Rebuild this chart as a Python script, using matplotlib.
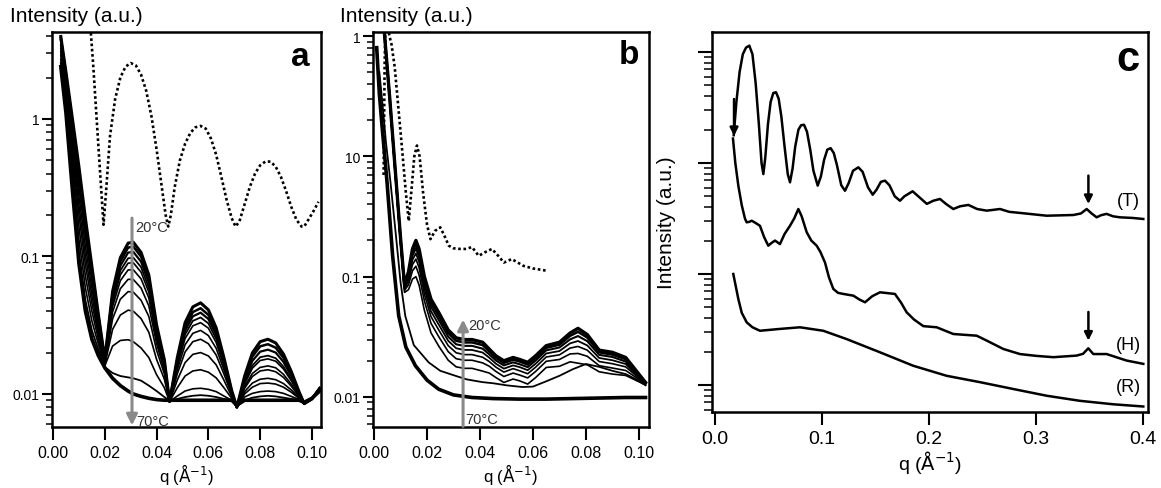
import matplotlib
matplotlib.use("Agg")
import matplotlib.pyplot as plt
from matplotlib.ticker import FixedLocator, FixedFormatter, LogLocator, NullFormatter

plt.rcParams['font.family'] = ['Liberation Sans', 'DejaVu Sans']

##### Data #####
## panel a : temperature series 20 -> 70 C (log intensity vs q)
q_a = [0.003, 0.005, 0.0075, 0.010, 0.0125, 0.015, 0.0175, 0.020,
       0.023, 0.026, 0.029, 0.031, 0.034, 0.037, 0.040, 0.043, 0.045,
       0.048, 0.051, 0.054, 0.057, 0.060, 0.063, 0.066, 0.069, 0.071,
       0.074, 0.077, 0.080, 0.083, 0.086, 0.089, 0.092, 0.095, 0.097,
       0.100, 0.103]

I_a = [
    [3.98, 2.19, 1.0, 0.45, 0.19, 0.085, 0.038, 0.0178,
     0.0557, 0.098, 0.125, 0.127, 0.107, 0.0733, 0.0317, 0.0177, 0.0088,
     0.0184, 0.033, 0.043, 0.046, 0.0409, 0.0303, 0.0184, 0.0106, 0.0080,
     0.0135, 0.0199, 0.024, 0.025, 0.0235, 0.0195, 0.0146, 0.0104, 0.0085,
     0.0092, 0.011],
    [3.88, 2.11, 0.94, 0.41, 0.176, 0.080, 0.037, 0.0177,
     0.0535, 0.092, 0.116, 0.118, 0.0998, 0.0689, 0.0305, 0.0173, 0.0088,
     0.0177, 0.0306, 0.0394, 0.042, 0.0376, 0.0283, 0.0177, 0.0105, 0.0080,
     0.013, 0.0187, 0.0222, 0.023, 0.0217, 0.0183, 0.0141, 0.0103, 0.0085,
     0.0092, 0.011],
    [3.78, 2.04, 0.89, 0.38, 0.163, 0.075, 0.035, 0.0175,
     0.0509, 0.0855, 0.1067, 0.108, 0.0916, 0.064, 0.0292, 0.0169, 0.0088,
     0.0171, 0.0289, 0.0367, 0.039, 0.0351, 0.0268, 0.0171, 0.0104, 0.0080,
     0.0126, 0.0174, 0.0203, 0.021, 0.020, 0.0171, 0.0135, 0.0101, 0.0085,
     0.0092, 0.011],
    [3.69, 1.97, 0.84, 0.35, 0.151, 0.071, 0.034, 0.0174,
     0.0483, 0.0789, 0.097, 0.098, 0.0836, 0.059, 0.0278, 0.0164, 0.0088,
     0.0165, 0.0271, 0.034, 0.036, 0.0326, 0.0252, 0.0165, 0.0103, 0.0080,
     0.0121, 0.0161, 0.0185, 0.019, 0.0182, 0.0158, 0.0128, 0.010, 0.0085,
     0.0092, 0.011],
    [3.60, 1.91, 0.79, 0.32, 0.139, 0.067, 0.033, 0.0173,
     0.0461, 0.0735, 0.0894, 0.090, 0.0769, 0.055, 0.0267, 0.016, 0.0088,
     0.0159, 0.0253, 0.0313, 0.033, 0.0301, 0.0237, 0.0159, 0.0102, 0.0080,
     0.0118, 0.0154, 0.0175, 0.018, 0.0173, 0.0152, 0.0125, 0.0099, 0.0085,
     0.0092, 0.011],
    [3.42, 1.78, 0.70, 0.275, 0.119, 0.059, 0.031, 0.0171,
     0.0432, 0.0667, 0.0798, 0.080, 0.0687, 0.0499, 0.0251, 0.0155, 0.0088,
     0.015, 0.0228, 0.0276, 0.029, 0.0266, 0.0215, 0.015, 0.0101, 0.0080,
     0.0113, 0.0141, 0.0156, 0.016, 0.0155, 0.0139, 0.0118, 0.0097, 0.0085,
     0.0092, 0.011],
    [3.25, 1.66, 0.62, 0.234, 0.102, 0.052, 0.029, 0.0168,
     0.0395, 0.0583, 0.0682, 0.068, 0.0589, 0.0437, 0.0232, 0.0148, 0.0088,
     0.014, 0.0202, 0.024, 0.025, 0.0232, 0.0192, 0.014, 0.0099, 0.0080,
     0.011, 0.0134, 0.0147, 0.015, 0.0145, 0.0132, 0.0114, 0.0096, 0.0085,
     0.0092, 0.011],
    [3.09, 1.55, 0.55, 0.20, 0.087, 0.046, 0.027, 0.0166,
     0.0352, 0.0489, 0.0555, 0.055, 0.048, 0.0366, 0.0208, 0.014, 0.0088,
     0.0126, 0.0169, 0.0194, 0.020, 0.0189, 0.0163, 0.0126, 0.0096, 0.0080,
     0.0104, 0.012, 0.0128, 0.013, 0.0127, 0.0119, 0.0107, 0.0094, 0.0085,
     0.0092, 0.011],
    [2.91, 1.43, 0.48, 0.164, 0.072, 0.040, 0.025, 0.0163,
     0.0295, 0.0375, 0.0407, 0.040, 0.0353, 0.0281, 0.0178, 0.0128, 0.0088,
     0.0111, 0.0135, 0.0147, 0.015, 0.0144, 0.0131, 0.0111, 0.0093, 0.0080,
     0.010, 0.0112, 0.0119, 0.012, 0.0118, 0.0112, 0.0103, 0.0093, 0.0085,
     0.0092, 0.011],
    [2.72, 1.30, 0.41, 0.133, 0.059, 0.034, 0.023, 0.016,
     0.0223, 0.0245, 0.0248, 0.024, 0.0216, 0.0184, 0.0138, 0.0111, 0.0088,
     0.00966, 0.0105, 0.0109, 0.011, 0.0108, 0.0104, 0.00966, 0.009, 0.0080,
     0.0095, 0.0101, 0.0104, 0.0105, 0.0104, 0.0101, 0.0096, 0.0091, 0.0085,
     0.0092, 0.011],
    [2.55, 1.19, 0.35, 0.108, 0.048, 0.029, 0.021, 0.0157,
     0.0142, 0.0135, 0.0132, 0.013, 0.0125, 0.0115, 0.0105, 0.0095, 0.0089,
     0.0092, 0.0095, 0.0097, 0.0098, 0.0097, 0.0095, 0.0092, 0.009, 0.0081,
     0.009, 0.0094, 0.0096, 0.0097, 0.0096, 0.0094, 0.0092, 0.009, 0.0086,
     0.0092, 0.011],
    [2.40, 1.10, 0.30, 0.089, 0.040, 0.025, 0.019, 0.0155,
     0.013, 0.0115, 0.0105, 0.0100, 0.0096, 0.0093, 0.0091, 0.009, 0.009,
     0.009, 0.009, 0.009, 0.009, 0.009, 0.009, 0.009, 0.009, 0.0083,
     0.009, 0.009, 0.009, 0.009, 0.009, 0.009, 0.009, 0.009, 0.0087,
     0.0093, 0.0105],
]
lw_a = [2.2, 1.8, 1.6, 1.3, 1.2, 1.2, 1.2, 1.2, 1.2, 1.2, 1.3, 2.6]

q_a_dot = [0.0140, 0.0155, 0.017, 0.0185, 0.0195, 0.0205, 0.022, 0.024, 0.026, 0.028,
           0.030, 0.032, 0.034, 0.036, 0.038, 0.040, 0.042, 0.0435, 0.0445, 0.0455,
           0.047, 0.049, 0.051, 0.053, 0.055, 0.057, 0.059, 0.061, 0.063, 0.065,
           0.067, 0.069, 0.0705, 0.072, 0.074, 0.076, 0.078, 0.080, 0.082, 0.084,
           0.086, 0.088, 0.090, 0.092, 0.094, 0.096, 0.097, 0.099, 0.101, 0.1025]
I_a_dot = [6.0, 2.5, 0.9, 0.33, 0.17, 0.30, 0.75, 1.4, 2.0, 2.4,
           2.55, 2.45, 2.1, 1.6, 1.05, 0.6, 0.32, 0.2, 0.165, 0.2,
           0.32, 0.5, 0.66, 0.79, 0.87, 0.89, 0.85, 0.72, 0.55, 0.38,
           0.26, 0.19, 0.165, 0.18, 0.24, 0.32, 0.40, 0.46, 0.49, 0.49,
           0.45, 0.38, 0.30, 0.23, 0.185, 0.165, 0.165, 0.19, 0.22, 0.25]

## panel b
q_b = [0.003, 0.004, 0.006, 0.008, 0.010, 0.0115, 0.013, 0.0145, 0.0158, 0.017,
       0.019, 0.0215, 0.0245, 0.028, 0.031, 0.034, 0.037, 0.041, 0.0435, 0.046,
       0.049, 0.0525, 0.055, 0.058, 0.061, 0.065, 0.070, 0.074, 0.077, 0.0805,
       0.085, 0.090, 0.095, 0.099, 0.1025]
I_b = [
    [20, 10, 2.9, 0.77, 0.21, 0.085, 0.11, 0.17, 0.20, 0.17,
     0.10, 0.065, 0.05, 0.036, 0.031, 0.030, 0.030, 0.0285, 0.025, 0.022,
     0.020, 0.0213, 0.0205, 0.0194, 0.022, 0.0267, 0.0285, 0.034, 0.0372, 0.033,
     0.0245, 0.0235, 0.0213, 0.0165, 0.0132],
    [20, 10, 2.89, 0.763, 0.208, 0.0838, 0.106, 0.160, 0.187, 0.159,
     0.0938, 0.061, 0.0469, 0.034, 0.0293, 0.0284, 0.0284, 0.027, 0.0239, 0.0211,
     0.0192, 0.0204, 0.0197, 0.0186, 0.0211, 0.0256, 0.0272, 0.0322, 0.0348, 0.0312,
     0.0235, 0.0225, 0.0206, 0.0162, 0.0131],
    [20, 10, 2.87, 0.755, 0.205, 0.0825, 0.102, 0.150, 0.172, 0.146,
     0.0868, 0.0564, 0.0434, 0.0317, 0.0274, 0.0266, 0.0266, 0.0252, 0.0226, 0.0201,
     0.0183, 0.0194, 0.0187, 0.0177, 0.0201, 0.0244, 0.0258, 0.0301, 0.0321, 0.0291,
     0.0224, 0.0215, 0.0197, 0.0158, 0.0131],
    [20, 10, 2.85, 0.745, 0.201, 0.0808, 0.0971, 0.138, 0.156, 0.133,
     0.0793, 0.0515, 0.0397, 0.0293, 0.0254, 0.0246, 0.0246, 0.0234, 0.0212, 0.0189,
     0.0172, 0.0183, 0.0177, 0.0167, 0.0189, 0.023, 0.0241, 0.0279, 0.0292, 0.0268,
     0.0211, 0.0202, 0.0188, 0.0154, 0.013],
    [20, 10, 2.83, 0.734, 0.198, 0.0791, 0.092, 0.126, 0.140, 0.119,
     0.0715, 0.0465, 0.0358, 0.0267, 0.0233, 0.0225, 0.0225, 0.0214, 0.0197, 0.0177,
     0.0161, 0.0172, 0.0165, 0.0156, 0.0177, 0.0215, 0.0224, 0.0255, 0.0263, 0.0245,
     0.0197, 0.0189, 0.0178, 0.015, 0.0129],
    [20, 10, 2.80, 0.721, 0.193, 0.0769, 0.0858, 0.112, 0.122, 0.103,
     0.0629, 0.0409, 0.0315, 0.0238, 0.0208, 0.0202, 0.0202, 0.0192, 0.018, 0.0163,
     0.0148, 0.0158, 0.0152, 0.0144, 0.0163, 0.0198, 0.0205, 0.0228, 0.023, 0.0218,
     0.0182, 0.0174, 0.0166, 0.0145, 0.0128],
    [20, 10, 2.77, 0.702, 0.187, 0.074, 0.0779, 0.0955, 0.100, 0.0852,
     0.0525, 0.0341, 0.0263, 0.0202, 0.0178, 0.0173, 0.0173, 0.0164, 0.0158, 0.0145,
     0.0132, 0.0141, 0.0136, 0.0128, 0.0145, 0.0176, 0.018, 0.0196, 0.0191, 0.0185,
     0.0162, 0.0155, 0.0151, 0.0137, 0.0126],
]
lw_b = [2.4, 1.8, 1.5, 1.3, 1.2, 1.2, 1.2]

q_b_low = [0.002, 0.003, 0.0045, 0.0062, 0.008, 0.010, 0.0118, 0.015, 0.0206, 0.025,
           0.0307, 0.035, 0.0408, 0.045, 0.050, 0.056, 0.060, 0.065, 0.070, 0.075,
           0.080, 0.085, 0.090, 0.095, 0.099, 0.1025]
I_b_low = [5.0, 3.0, 1.3, 0.61, 0.25, 0.09, 0.047, 0.027, 0.0194, 0.0165,
           0.015, 0.014, 0.0133, 0.013, 0.0125, 0.0121, 0.0122, 0.0135, 0.015, 0.017,
           0.0188, 0.0178, 0.0165, 0.0155, 0.014, 0.0125]

q_b_70 = [0.001, 0.002, 0.003, 0.0049, 0.007, 0.0093, 0.012, 0.0156, 0.020, 0.0244,
          0.030, 0.037, 0.045, 0.055, 0.065, 0.075, 0.085, 0.095, 0.1025]
I_b_70 = [8.0, 3.3, 1.8, 0.61, 0.15, 0.0474, 0.026, 0.0182, 0.0138, 0.0116,
          0.0104, 0.0099, 0.0097, 0.0096, 0.0096, 0.0097, 0.0098, 0.0099, 0.0099]

q_b_dot = [0.0036, 0.0038, 0.0040, 0.0043, 0.0050, 0.0058, 0.0066, 0.0078, 0.0090, 0.0100,
           0.0110, 0.0120, 0.0131, 0.0142, 0.0152, 0.0162, 0.0172, 0.0185, 0.0200, 0.0213,
           0.0230, 0.0250, 0.0265, 0.0282, 0.0300, 0.0325, 0.0345, 0.0370, 0.0395, 0.0420,
           0.0445, 0.0470, 0.0490, 0.0520, 0.0545, 0.0564, 0.0600, 0.0652]
I_b_dot = [0.7, 2.0, 6.0, 12.0, 13.0, 10.0, 8.5, 5.5, 2.8, 1.6,
           0.9, 0.5, 0.29, 0.55, 1.0, 1.23, 1.0, 0.5, 0.27, 0.205,
           0.24, 0.257, 0.22, 0.181, 0.172, 0.17, 0.17, 0.176, 0.149, 0.16,
           0.17, 0.148, 0.131, 0.14, 0.13, 0.123, 0.117, 0.112]
yticks_b = [0.01, 0.1, 1, 10]
yticklabels_b = ['0.01', '0.1', '10', '1']

## panel c : (T), (H), (R)
q_T = [0.0175, 0.020, 0.023, 0.026, 0.029, 0.0321, 0.035, 0.038, 0.041, 0.0435,
       0.0452, 0.047, 0.0495, 0.052, 0.0545, 0.057, 0.0595, 0.062, 0.065, 0.068,
       0.0701, 0.0725, 0.075, 0.078, 0.0805, 0.0832, 0.086, 0.089, 0.092, 0.096,
       0.099, 0.102, 0.105, 0.1081, 0.111, 0.114, 0.118, 0.1215, 0.125, 0.129,
       0.134, 0.138, 0.143, 0.1474, 0.151, 0.155, 0.1589, 0.163, 0.168, 0.1729,
       0.177, 0.1847, 0.19, 0.198, 0.204, 0.2103, 0.216, 0.2227, 0.229, 0.2368,
       0.245, 0.254, 0.2664, 0.275, 0.285, 0.31, 0.335, 0.342, 0.3474, 0.352,
       0.3567, 0.361, 0.366, 0.372, 0.3785, 0.390, 0.4003]
I_T = [178, 355, 661, 955, 1096, 1140, 955, 525, 224, 100,
       79.4, 112, 224, 355, 427, 434, 380, 263, 141, 79.4,
       67.0, 89.1, 141, 200, 219, 221, 191, 132, 85.1, 62.5,
       75.9, 107, 132, 136, 123, 95.5, 63.1, 56.2, 66.1, 85.1,
       91.4, 83.2, 60.3, 51.8, 57.5, 67.6, 69.3, 63.1, 50.1, 45.7,
       50.1, 55.6, 50.1, 42.8, 45.7, 47.4, 42.7, 38.5, 40.7, 41.9,
       38.5, 37.2, 38.5, 36.3, 35.5, 33.5, 34.0, 35.1, 38.5, 35.1,
       32.4, 33.9, 34.8, 33.1, 32.4, 32.0, 31.3]

q_H = [0.0168, 0.019, 0.0218, 0.025, 0.028, 0.0296, 0.032, 0.0343, 0.038, 0.042,
       0.046, 0.0498, 0.053, 0.0561, 0.0607, 0.065, 0.0701, 0.074, 0.0779, 0.081,
       0.0857, 0.090, 0.095, 0.0985, 0.1028, 0.1065, 0.1106, 0.115, 0.12, 0.1293,
       0.135, 0.1402, 0.147, 0.1542, 0.1682, 0.174, 0.1791, 0.186, 0.1947, 0.2072,
       0.2227, 0.2446, 0.254, 0.2695, 0.285, 0.30, 0.3162, 0.338, 0.344, 0.3489,
       0.3536, 0.366, 0.3847, 0.4003]
I_H = [166, 100, 62.5, 41.7, 31.6, 29.2, 29.5, 30.2, 28.8, 27.2,
       21.4, 18.0, 19.1, 20.0, 18.6, 22.9, 27.2, 31.6, 38.5, 33.1,
       23.8, 20.0, 18.0, 15.8, 12.7, 9.33, 7.33, 6.76, 6.61, 6.38,
       5.89, 5.56, 6.31, 6.84, 6.61, 5.50, 4.52, 3.89, 3.39, 3.31,
       2.88, 2.78, 2.51, 2.11, 1.90, 1.83, 1.78, 1.84, 1.91, 2.14,
       1.90, 1.90, 1.66, 1.55]

q_R = [0.0171, 0.0218, 0.025, 0.0296, 0.035, 0.042, 0.0607, 0.0794, 0.1012, 0.1231,
       0.1542, 0.1853, 0.2165, 0.2477, 0.2788, 0.31, 0.3411, 0.3723, 0.4003]
I_R = [10.0, 5.96, 4.47, 3.67, 3.31, 3.08, 3.20, 3.31, 3.08, 2.59,
       1.97, 1.49, 1.21, 1.06, 0.92, 0.80, 0.72, 0.67, 0.64]

xticks_ab = [0.00, 0.02, 0.04, 0.06, 0.08, 0.10]
xticks_c = [0.0, 0.1, 0.2, 0.3, 0.4]

W, H = 1161, 489
fig = plt.figure(figsize=(W / 100, H / 100), dpi=100)


def box(l, t, r, b):
    return [l / W, (H - b) / H, (r - l) / W, (b - t) / H]


def style(ax):
    for s in ax.spines.values():
        s.set_linewidth(1.8)
    ax.tick_params(which='both', direction='out', top=False, right=False, colors='black')
    ax.tick_params(which='major', length=7, width=1.5)
    ax.tick_params(which='minor', length=4, width=1.1)
    ax.tick_params(axis='x', which='major', length=9, labelsize=11.5, pad=4)
    ax.tick_params(axis='y', labelsize=10, pad=2)


gray = '#8a8a8a'
xlab = r'q ($\mathrm{\AA^{-1}}$)'

# ---------- a ----------
ax = fig.add_axes(box(52, 33, 321, 428))
ax.set_yscale('log')
ax.plot(q_a_dot, I_a_dot, color='black', lw=1.9, linestyle=(0, (1, 1)))
for curve, lw in zip(I_a, lw_a):
    ax.plot(q_a, curve, color='black', lw=lw)
ax.set_xlim(-0.0004, 0.1035)
ax.set_ylim(0.00575, 4.29)
ax.xaxis.set_major_locator(FixedLocator(xticks_ab))
ax.set_xticklabels(['%.2f' % v for v in xticks_ab])
ax.yaxis.set_major_locator(FixedLocator([0.01, 0.1, 1]))
ax.yaxis.set_major_formatter(FixedFormatter(['0.01', '0.1', '1']))
ax.yaxis.set_minor_locator(LogLocator(base=10, subs=range(2, 10)))
ax.yaxis.set_minor_formatter(NullFormatter())
style(ax)
ax.set_xlabel(xlab, fontsize=12, labelpad=1)
ax.annotate('', xy=(0.0305, 0.0059), xytext=(0.0305, 0.19),
            arrowprops=dict(arrowstyle='-|>', color=gray, lw=2.2, mutation_scale=16,
                            shrinkA=0, shrinkB=0))
ax.text(0.0318, 0.165, '20°C', fontsize=10.5, color='#333333', va='center')
ax.text(0.0322, 0.0064, '70°C', fontsize=10.5, color='#333333', va='center')
ax.text(0.922, 0.937, 'a', transform=ax.transAxes, fontsize=24, fontweight='bold',
        ha='center', va='center')
fig.text(10 / W, 1 - 17 / H, 'Intensity (a.u.)', fontsize=15, va='center')

# ---------- b ----------
ax = fig.add_axes(box(373, 33, 649, 428))
ax.set_yscale('log')
ax.plot(q_b_dot, I_b_dot, color='black', lw=1.9, linestyle=(0, (1, 1)))
ax.plot(q_b_70, I_b_70, color='black', lw=2.6)
ax.plot(q_b_low, I_b_low, color='black', lw=1.3)
for curve, lw in zip(I_b, lw_b):
    ax.plot(q_b, curve, color='black', lw=lw)
ax.set_xlim(-0.0004, 0.1038)
ax.set_ylim(0.00563, 10.8)
ax.xaxis.set_major_locator(FixedLocator(xticks_ab))
ax.set_xticklabels(['%.2f' % v for v in xticks_ab])
ax.yaxis.set_major_locator(FixedLocator(yticks_b))
ax.yaxis.set_major_formatter(FixedFormatter(yticklabels_b))
ax.yaxis.set_minor_locator(LogLocator(base=10, subs=range(2, 10)))
ax.yaxis.set_minor_formatter(NullFormatter())
style(ax)
ax.set_xlabel(xlab, fontsize=12, labelpad=1)
ax.annotate('', xy=(0.0336, 0.044), xytext=(0.0336, 0.0057),
            arrowprops=dict(arrowstyle='-|>', color=gray, lw=2.2, mutation_scale=16,
                            shrinkA=0, shrinkB=0))
ax.text(0.0355, 0.040, '20°C', fontsize=10.5, color='#333333', va='center')
ax.text(0.0345, 0.0066, '70°C', fontsize=10.5, color='#333333', va='center')
ax.text(0.928, 0.942, 'b', transform=ax.transAxes, fontsize=24, fontweight='bold',
        ha='center', va='center')
fig.text(340 / W, 1 - 17 / H, 'Intensity (a.u.)', fontsize=15, va='center')

# ---------- c ----------
ax = fig.add_axes(box(712, 33, 1148, 413))
ax.set_yscale('log')
ax.plot(q_T, I_T, color='black', lw=1.8)
ax.plot(q_H, I_H, color='black', lw=1.8)
ax.plot(q_R, I_R, color='black', lw=1.8)
ax.set_xlim(-0.0028, 0.4047)
ax.set_ylim(0.571, 1514)
ax.xaxis.set_major_locator(FixedLocator(xticks_c))
ax.set_xticklabels(['%.1f' % v for v in xticks_c])
ax.yaxis.set_major_locator(FixedLocator([1, 10, 100, 1000]))
ax.yaxis.set_minor_locator(LogLocator(base=10, subs=range(2, 10)))
ax.yaxis.set_major_formatter(NullFormatter())
ax.yaxis.set_minor_formatter(NullFormatter())
style(ax)
ax.tick_params(axis='x', labelsize=14)
ax.tick_params(axis='y', which='major', length=10)
ax.tick_params(axis='y', which='minor', length=6)
ax.set_xlabel(xlab, fontsize=14, labelpad=1)
ax.set_ylabel('Intensity (a.u.)', fontsize=15, labelpad=14)
arrow = dict(arrowstyle='-|>', color='black', lw=1.8, mutation_scale=12, shrinkA=0, shrinkB=0)
ax.annotate('', xy=(0.0178, 175), xytext=(0.0178, 377), arrowprops=arrow)
ax.annotate('', xy=(0.349, 42.7), xytext=(0.349, 77), arrowprops=arrow)
ax.annotate('', xy=(0.349, 2.51), xytext=(0.349, 4.55), arrowprops=arrow)
ax.text(0.386, 45.7, '(T)', fontsize=13, ha='center', va='center')
ax.text(0.386, 2.34, '(H)', fontsize=13, ha='center', va='center')
ax.text(0.386, 0.96, '(R)', fontsize=13, ha='center', va='center')
ax.text(0.954, 0.929, 'c', transform=ax.transAxes, fontsize=30, fontweight='bold',
        ha='center', va='center')

fig.savefig('out.png', dpi=100)
